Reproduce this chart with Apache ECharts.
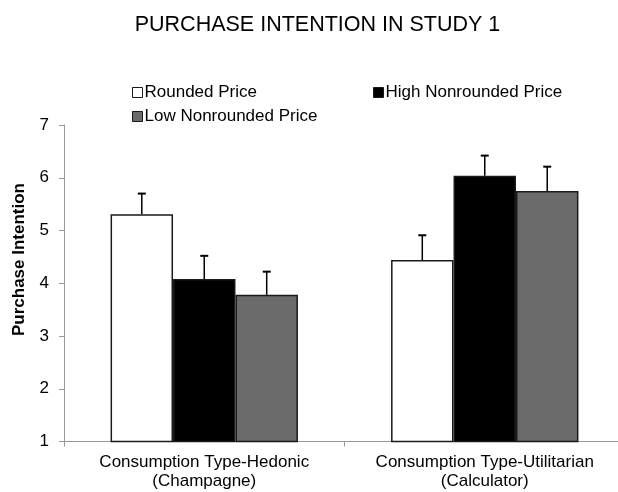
<!DOCTYPE html>
<html>
<head>
<meta charset="utf-8">
<script src="https://cdn.jsdelivr.net/npm/echarts@6/dist/echarts.min.js"></script>
<style>html,body{margin:0;padding:0;background:#fff;overflow:hidden}#c{width:632px;height:492px}</style>
</head>
<body>
<div id="c"></div>
<script>
var categories = ['Consumption Type-Hedonic\n(Champagne)', 'Consumption Type-Utilitarian\n(Calculator)'];
var seriesNames = ['Rounded Price', 'High Nonrounded Price', 'Low Nonrounded Price'];
var roundedMeans = [5.31, 4.44];
var highMeans = [4.08, 6.04];
var lowMeans = [3.78, 5.75];
var roundedErrTop = [5.70, 4.91];
var highErrTop = [4.52, 6.42];
var lowErrTop = [4.22, 6.21];
var yTicks = [1, 2, 3, 4, 5, 6, 7];
var colors = ['#ffffff', '#000000', '#6b6b6b'];

var means = [roundedMeans, highMeans, lowMeans];
var errTops = [roundedErrTop, highErrTop, lowErrTop];
var FONT = '"Liberation Sans", Arial, sans-serif';
var catGap = 0.332;

var chart = echarts.init(document.getElementById('c'), null, {renderer: 'canvas'});

var series = [];
means.forEach(function (m, i) {
  series.push({
    name: seriesNames[i], type: 'bar', data: m,
    barGap: '0%', barCategoryGap: (catGap * 100) + '%',
    itemStyle: {color: colors[i], borderColor: '#1a1a1a', borderWidth: 1.5},
    z: 2
  });
});
errTops.forEach(function (e, i) {
  series.push({
    type: 'custom', silent: true, z: 3,
    data: e.map(function (v, k) { return [k, means[i][k], v]; }),
    renderItem: function (params, api) {
      var band = api.size([1, 0])[0];
      var bw = band * (1 - catGap) / 3;
      var base = api.coord([api.value(0), api.value(1)]);
      var top = api.coord([api.value(0), api.value(2)]);
      var x = base[0] + (i - 1) * bw;
      var cap = 4;
      return {
        type: 'group',
        children: [
          {type: 'line', shape: {x1: x, y1: base[1], x2: x, y2: top[1]}, style: {stroke: '#000', lineWidth: 1.5}},
          {type: 'line', shape: {x1: x - cap, y1: top[1], x2: x + cap, y2: top[1]}, style: {stroke: '#000', lineWidth: 2}}
        ]
      };
    }
  });
});

function legendAt(name, left, top) {
  return {
    data: [{name: name, icon: 'rect'}], left: left, top: top, orient: 'horizontal',
    itemWidth: 10, itemHeight: 10, itemGap: 0, padding: 0, selectedMode: false,
    itemStyle: {borderColor: '#1a1a1a', borderWidth: 1},
    textStyle: {fontFamily: FONT, fontSize: 17, color: '#000', padding: [0, 0, 0, -3]}
  };
}

chart.setOption({
  animation: false,
  backgroundColor: '#fff',
  title: {
    text: 'PURCHASE INTENTION IN STUDY 1', left: 312.5, top: 9, textAlign: 'center',
    textStyle: {fontFamily: FONT, fontSize: 21.5, fontWeight: 'normal', color: '#000'}
  },
  legend: [
    legendAt(seriesNames[0], 132, 84),
    legendAt(seriesNames[1], 373, 84),
    legendAt(seriesNames[2], 132, 108)
  ],
  grid: {left: 64, top: 125, width: 561, height: 316.5, containLabel: false},
  xAxis: {
    type: 'category', data: categories,
    axisLine: {lineStyle: {color: '#999', width: 1}},
    axisTick: {show: true, length: 5, lineStyle: {color: '#999'}},
    axisLabel: {interval: 0, fontFamily: FONT, fontSize: 17, color: '#000', margin: 11, lineHeight: 19}
  },
  yAxis: {
    type: 'value', min: yTicks[0], max: yTicks[yTicks.length - 1], interval: 1,
    splitLine: {show: false},
    axisLine: {show: true, lineStyle: {color: '#999', width: 1}},
    axisTick: {show: true, length: 5, lineStyle: {color: '#999'}},
    axisLabel: {fontFamily: FONT, fontSize: 17, color: '#000', margin: 15}
  },
  graphic: [{
    type: 'text', left: 11, top: 183, rotation: Math.PI / 2,
    style: {text: 'Purchase Intention', fontFamily: FONT, fontSize: 17, fontWeight: 'bold', fill: '#000'}
  }],
  series: series
});
</script>
</body>
</html>
